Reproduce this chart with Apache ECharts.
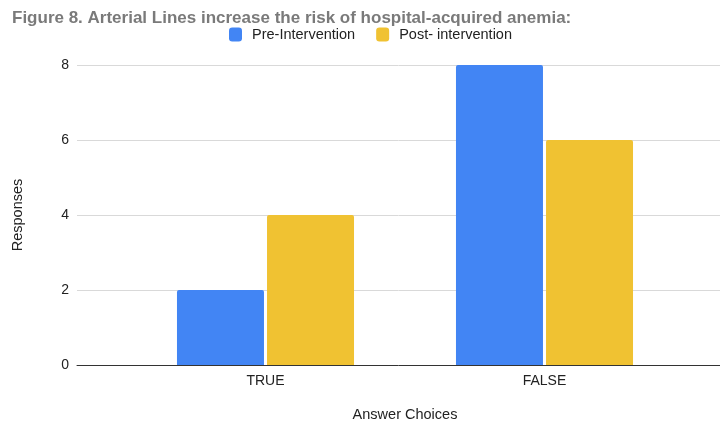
<!DOCTYPE html>
<html>
<head>
<meta charset="utf-8">
<script src="https://cdn.jsdelivr.net/npm/echarts@6/dist/echarts.min.js"></script>
<style>
  html, body { margin: 0; padding: 0; background: #fff; }
  #chart { width: 720px; height: 423px; }
</style>
</head>
<body>
<div id="chart"></div>
<script>
// Survey answers per choice
const categories = ['TRUE', 'FALSE'];
const preIntervention = [2, 8];
const postIntervention = [4, 6];
const yTicks = { min: 0, max: 8, interval: 2 };

const font = 'Liberation Sans, Arial, sans-serif';
const chart = echarts.init(document.getElementById('chart'));

chart.setOption({
  animation: false,
  title: {
    text: 'Figure 8. Arterial Lines increase the risk of hospital-acquired anemia:',
    left: 7, top: 5,
    textStyle: { fontFamily: font, fontSize: 17, fontWeight: 'bold', color: '#7a7a7a' }
  },
  legend: {
    left: 224, top: 22,
    itemWidth: 13, itemHeight: 14, itemGap: 21,
    icon: 'roundRect',
    textStyle: { fontFamily: font, fontSize: 14.5, color: '#222', padding: [0, 0, 0, 5] },
    data: ['Pre-Intervention', 'Post- intervention']
  },
  grid: [
    // bars
    { left: 126, right: 36, top: 65, bottom: 58, outerBoundsMode: 'none' },
    // value scale, gridlines and baseline spanning the full width
    { left: 77, right: 0, top: 65, bottom: 58, outerBoundsMode: 'none' }
  ],
  xAxis: [
    {
      type: 'category', gridIndex: 0, data: categories,
      axisLine: { show: false }, axisTick: { show: false },
      axisLabel: { fontFamily: font, fontSize: 14, color: '#222', margin: 9 },
      name: 'Answer Choices', nameLocation: 'middle', nameGap: 42,
      nameTextStyle: { fontFamily: font, fontSize: 14.5, color: '#222' }
    },
    {
      type: 'value', gridIndex: 1, min: 0, max: 1,
      axisLine: { show: true, onZero: false, lineStyle: { color: '#333', width: 1 } },
      axisTick: { show: false }, axisLabel: { show: false }, splitLine: { show: false }
    }
  ],
  yAxis: [
    {
      type: 'value', gridIndex: 0, min: yTicks.min, max: yTicks.max, interval: yTicks.interval,
      axisLine: { show: false }, axisTick: { show: false }, axisLabel: { show: false },
      splitLine: { show: false }
    },
    {
      type: 'value', gridIndex: 1, min: yTicks.min, max: yTicks.max, interval: yTicks.interval,
      axisLine: { show: false }, axisTick: { show: false },
      axisLabel: { fontFamily: font, fontSize: 14, color: '#222', margin: 8 },
      splitLine: { lineStyle: { color: '#d9d9d9', width: 1 } },
      name: 'Responses', nameLocation: 'middle', nameGap: 52, nameRotate: 90,
      nameTextStyle: { fontFamily: font, fontSize: 14.5, color: '#222' }
    }
  ],
  series: [
    {
      name: 'Pre-Intervention', type: 'bar', xAxisIndex: 0, yAxisIndex: 0,
      data: preIntervention, barWidth: 87, barGap: '3.5%',
      itemStyle: { color: '#4285f4', borderRadius: [2, 2, 0, 0] }
    },
    {
      name: 'Post- intervention', type: 'bar', xAxisIndex: 0, yAxisIndex: 0,
      data: postIntervention, barWidth: 87,
      itemStyle: { color: '#f0c232', borderRadius: [2, 2, 0, 0] }
    }
  ]
});
</script>
</body>
</html>
